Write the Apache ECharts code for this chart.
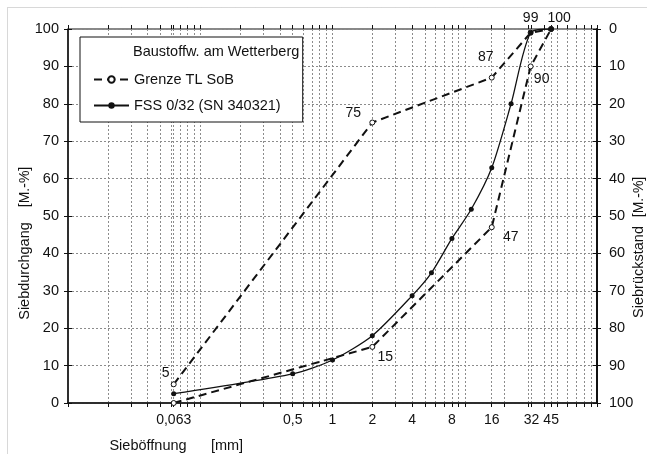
<!DOCTYPE html>
<html>
<head>
<meta charset="utf-8">
<script src="https://cdn.jsdelivr.net/npm/echarts@6/dist/echarts.min.js"></script>
<style>
  html, body { margin: 0; padding: 0; background: #fff; }
  #chart { width: 647px; height: 454px; }
</style>
</head>
<body>
<div id="chart"></div>
<script>
// Sieve analysis of the sample (sieve opening in mm, passing in mass-%)
const sieveSizes = [0.063, 0.5, 1, 2, 4, 5.6, 8, 11.2, 16, 22.4, 31.5, 45];
const fssPassing = [2.5, 7.8, 11.5, 18, 28.7, 34.8, 44, 51.8, 62.9, 80, 99, 100];

// Grading envelope (upper and lower limit)
const limitSizes = [0.063, 2, 16, 31.5, 45];
const limitUpper = [5, 75, 87, 99, 100];
const limitLower = [0, 15, 47, 90, 100];

// Labelled sieve openings on the x axis
const xLabelValues = [0.063, 0.5, 1, 2, 4, 8, 16, 32, 45];
const xLabelTexts = ['0,063', '0,5', '1', '2', '4', '8', '16', '32', '45'];

// Series and legend names
const nameLimit = 'Grenze TL SoB';
const nameSample = 'FSS 0/32 (SN 340321)';
const legendTitle = 'Baustoffw. am Wetterberg';

// Log grid: 1..9 per decade from 0.01 to 100, plus the labelled openings
const gridValues = [];
for (let e = -2; e <= 1; e++) {
  for (let m = 1; m <= 9; m++) gridValues.push(+(m * Math.pow(10, e)).toPrecision(3));
}
gridValues.push(100);
const tickValues = gridValues.concat([0.063, 16, 32, 45]).sort((a, b) => a - b);

const FONT = "'Liberation Sans', Arial, sans-serif";
const INK = '#111';
const GRID = '#8c8c8c';

// label offsets next to the limit points
const upperLabelOffset = [[-8, -11], [-19, -9], [-6, -20], [0, -15], [8, -11]];
const lowerLabelOffset = [null, [13, 10], [19, 10], [11, 13], null];

function limitData(values, offsets) {
  return limitSizes.map((x, i) => {
    const item = { value: [x, values[i]] };
    if (offsets[i]) {
      item.label = { show: true, position: 'inside', offset: offsets[i] };
    }
    return item;
  });
}

function xLabel(v) {
  let best = 0;
  xLabelValues.forEach((x, i) => {
    if (Math.abs(Math.log(x) - Math.log(v)) < Math.abs(Math.log(xLabelValues[best]) - Math.log(v))) best = i;
  });
  return xLabelTexts[best];
}

const limitStyle = {
  type: 'line',
  name: nameLimit,
  xAxisIndex: 0,
  yAxisIndex: 0,
  symbol: 'circle',
  symbolSize: 5,
  lineStyle: { color: INK, width: 2, type: [8, 5] },
  itemStyle: { color: '#fff', borderColor: INK, borderWidth: 1 },
  label: {
    show: false,
    formatter: p => p.value[1],
    color: INK, fontSize: 14, fontFamily: FONT
  },
  emphasis: { disabled: true },
  z: 3
};

const chart = echarts.init(document.getElementById('chart'), null, { renderer: 'canvas' });

chart.setOption({
  animation: false,
  backgroundColor: '#fff',
  textStyle: { fontFamily: FONT, color: INK },
  title: {
    text: legendTitle,
    left: 133, top: 44, padding: 0, z: 10,
    textStyle: { fontSize: 14.5, fontWeight: 'normal', color: INK, fontFamily: FONT }
  },
  legend: {
    orient: 'vertical',
    left: 80, top: 37,
    padding: [35, 22, 9, 13],
    itemWidth: 35, itemHeight: 8, itemGap: 11,
    backgroundColor: '#fff',
    borderColor: INK, borderWidth: 1,
    textStyle: { fontSize: 14.5, color: INK, fontFamily: FONT },
    data: [nameLimit, nameSample],
    selectedMode: false
  },
  grid: {
    left: 68, right: 50, top: 29, bottom: 51,
    show: true, borderColor: INK, borderWidth: 1, backgroundColor: 'transparent'
  },
  xAxis: [
    {
      type: 'log', logBase: 10, min: 0.01, max: 100, position: 'bottom',
      axisLine: { lineStyle: { color: INK, width: 1.5 } },
      axisTick: { customValues: tickValues, length: 4, lineStyle: { color: INK } },
      axisLabel: { customValues: xLabelValues, formatter: xLabel, fontSize: 14, color: INK, margin: 10 },
      splitLine: { show: true, lineStyle: { color: GRID, type: [2, 2], width: 1 } },
      minorTick: { show: false }, minorSplitLine: { show: false }
    },
    {
      type: 'log', logBase: 10, min: 0.01, max: 100, position: 'bottom',
      axisLine: { show: false },
      axisTick: { customValues: tickValues, inside: true, length: 4, lineStyle: { color: INK } },
      axisLabel: { show: false },
      splitLine: { show: false }
    }
  ],
  yAxis: [
    {
      type: 'value', min: 0, max: 100, interval: 10, position: 'left',
      axisLine: { show: true, lineStyle: { color: INK, width: 1.5 } },
      axisTick: { show: true, length: 4, lineStyle: { color: INK } },
      axisLabel: { fontSize: 14.5, color: INK, margin: 9 },
      splitLine: { show: true, lineStyle: { color: GRID, type: [2, 2], width: 1 } }
    },
    {
      type: 'value', min: 0, max: 100, interval: 10, position: 'right', inverse: true,
      axisLine: { show: true, lineStyle: { color: INK, width: 2 } },
      axisTick: { show: true, length: 4, lineStyle: { color: INK } },
      axisLabel: { fontSize: 14.5, color: INK, margin: 12 },
      splitLine: { show: false }
    },
    {
      type: 'value', min: 0, max: 100, interval: 10, position: 'left',
      axisLine: { show: false },
      axisTick: { show: true, inside: true, length: 4, lineStyle: { color: INK } },
      axisLabel: { show: false }, splitLine: { show: false }
    },
    {
      type: 'value', min: 0, max: 100, interval: 10, position: 'right', inverse: true,
      axisLine: { show: false },
      axisTick: { show: true, inside: true, length: 4, lineStyle: { color: INK } },
      axisLabel: { show: false }, splitLine: { show: false }
    }
  ],
  graphic: [
    {
      type: 'rect', silent: true, z: -1,
      shape: { x: 7.5, y: 7.5, width: 700, height: 500 },
      style: { fill: 'none', stroke: '#b0b0b0', lineWidth: 1, lineDash: [1, 1] }
    },
    { type: 'text', x: 25, y: 271, rotation: Math.PI / 2,
      style: { text: 'Siebdurchgang', font: '14.5px ' + FONT, fill: INK, align: 'center', verticalAlign: 'middle' } },
    { type: 'text', x: 25, y: 187, rotation: Math.PI / 2,
      style: { text: '[M.-%]', font: '14px ' + FONT, fill: INK, align: 'center', verticalAlign: 'middle' } },
    { type: 'text', x: 639, y: 272, rotation: Math.PI / 2,
      style: { text: 'Siebrückstand', font: '14.5px ' + FONT, fill: INK, align: 'center', verticalAlign: 'middle' } },
    { type: 'text', x: 639, y: 197, rotation: Math.PI / 2,
      style: { text: '[M.-%]', font: '14px ' + FONT, fill: INK, align: 'center', verticalAlign: 'middle' } },
    { type: 'text', x: 148, y: 446,
      style: { text: 'Sieböffnung', font: '14.5px ' + FONT, fill: INK, align: 'center', verticalAlign: 'middle' } },
    { type: 'text', x: 227, y: 446,
      style: { text: '[mm]', font: '14.5px ' + FONT, fill: INK, align: 'center', verticalAlign: 'middle' } }
  ],
  series: [
    Object.assign({}, limitStyle, { data: limitData(limitUpper, upperLabelOffset) }),
    Object.assign({}, limitStyle, { data: limitData(limitLower, lowerLabelOffset) }),
    {
      type: 'line',
      name: nameSample,
      xAxisIndex: 0, yAxisIndex: 0,
      data: sieveSizes.map((x, i) => [x, fssPassing[i]]),
      smooth: 0.25,
      symbol: 'circle', symbolSize: 5,
      lineStyle: { color: INK, width: 1.3 },
      itemStyle: { color: INK },
      emphasis: { disabled: true },
      z: 4
    }
  ]
});
</script>
</body>
</html>
